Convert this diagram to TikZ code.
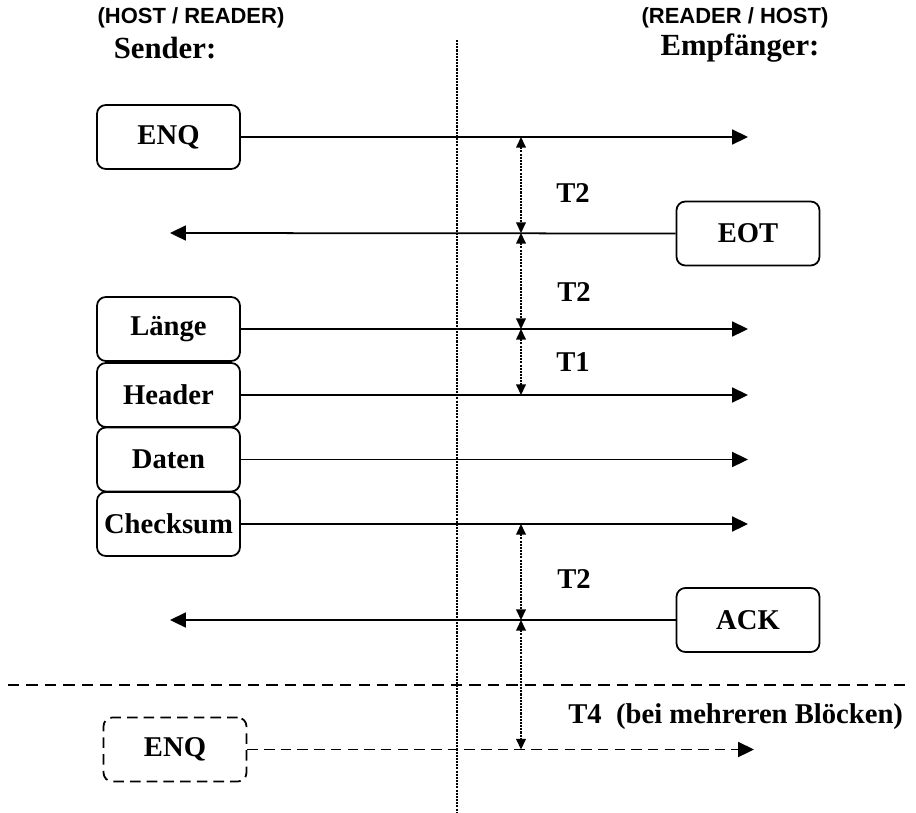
\documentclass[tikz,border=0pt]{standalone}
\usepackage{fontspec}
\setmainfont{Liberation Serif}
\newfontfamily\headfont{Liberation Sans}
\usetikzlibrary{arrows.meta}

\begin{document}
\begin{tikzpicture}[x=0.02cm,y=-0.02cm,
    msg/.style={draw,line width=1pt,rounded corners=5pt,minimum width=2.86cm,
      minimum height=1.28cm,inner sep=0pt,font=\fontsize{16.3}{19}\selectfont\bfseries},
    msg dashed/.style={msg,dash pattern=on 6pt off 3.5pt},
    sig/.style={line width=1pt,-{Triangle[length=9pt,width=8.5pt]}},
    sig dashed/.style={sig,dash pattern=on 6pt off 3.5pt},
    timing/.style={line width=0.75pt,dash pattern=on 1.2pt off 0.6pt,
      {Triangle[length=6pt,width=5.5pt]}-{Triangle[length=6pt,width=5.5pt]}},
    tlabel/.style={font=\fontsize{16.3}{19}\selectfont\bfseries},
    role/.style={font=\headfont\fontsize{12.5}{15}\selectfont\bfseries},
    side/.style={font=\fontsize{17.5}{20}\selectfont\bfseries},
  ]

    \useasboundingbox (0,0) rectangle (916,812);

    \node[role] (hostL) at (191,18) {(HOST / READER)};
    \node[side] (sender) at (165,48) {Sender:};
    \node[role] (hostR) at (735,18) {(READER / HOST)};
    \node[side] (receiver) at (740,48) {Empfänger:};

    \coordinate (midtop) at (457,40);
    \coordinate (midbot) at (457,812);
    \draw[line width=0.75pt,dash pattern=on 1.2pt off 0.6pt] (midtop) -- (midbot);

    \node[msg] (enq) at (168.5,137) {ENQ};
    \coordinate (enq end) at (748,137);
    \draw[sig] (enq.east) -- (enq end);

    \node[msg] (eot) at (748,233.5) {EOT};
    \coordinate (eot end) at (170,233);
    \draw[sig] (eot.west) -- (eot end);

    \foreach \name/\txt/\y in {laenge/Länge/329,header/Header/395,
        daten/Daten/459.5,checksum/Checksum/524}
    {
      \node[msg] (\name) at (168.5,\y) {\txt};
      \coordinate (\name end) at (748,\y);
      \draw[sig] (\name.east) -- (\name end);
    }

    \node[msg] (ack) at (748,620) {ACK};
    \coordinate (ack end) at (170,620);
    \draw[sig] (ack.west) -- (ack end);

    \coordinate (cut left) at (8,685);
    \coordinate (cut right) at (910,685);
    \draw[line width=1pt,dash pattern=on 6.5pt off 4pt] (cut left) -- (cut right);

    \node[msg dashed] (enq2) at (175,749.5) {ENQ};
    \coordinate (enq2 end) at (754,749.5);
    \draw[sig dashed] (enq2.east) -- (enq2 end);

    \coordinate (t1) at (521,137);
    \coordinate (t2) at (521,233);
    \coordinate (t3) at (521,329);
    \coordinate (t4) at (521,395);
    \coordinate (t5) at (521,524);
    \coordinate (t6) at (521,620);
    \coordinate (t7) at (521,749.5);
    \foreach \a/\b in {t1/t2,t2/t3,t3/t4,t5/t6,t6/t7}
      \draw[timing] (\a) -- (\b);

    \node[tlabel] (lab1) at (573,193) {T2};
    \node[tlabel] (lab2) at (574,292) {T2};
    \node[tlabel] (lab3) at (573,362) {T1};
    \node[tlabel] (lab4) at (574,579) {T2};
    \node[tlabel,anchor=west,inner sep=0pt] (lab5) at (568,717)
      {T4\ \ (bei mehreren Blöcken)};

\end{tikzpicture}
\end{document}
